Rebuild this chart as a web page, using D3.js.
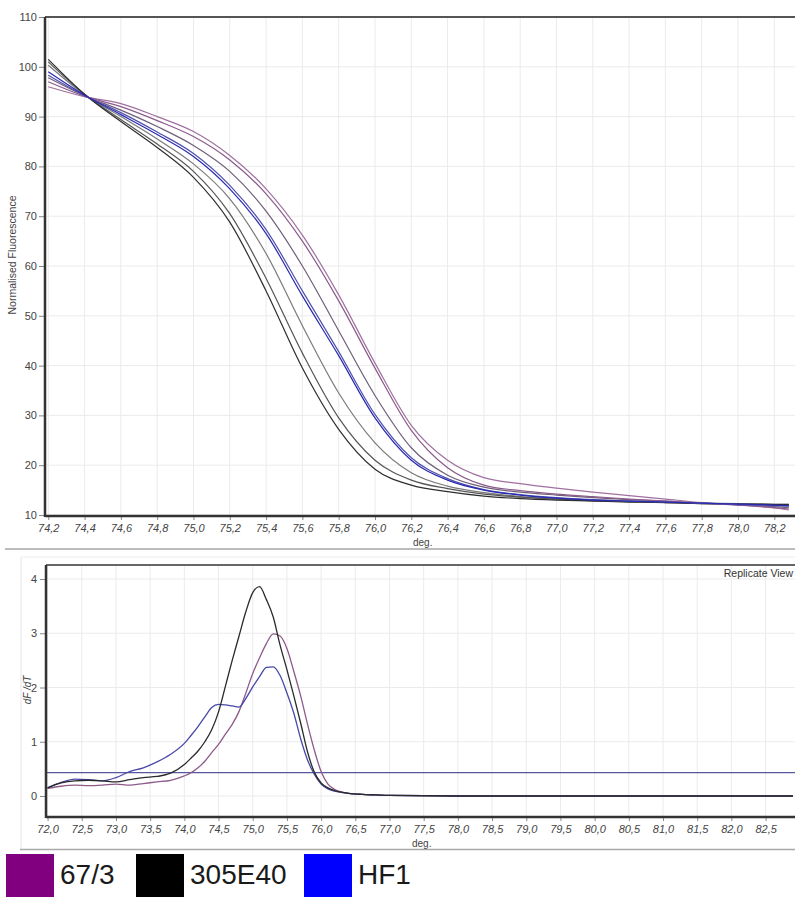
<!DOCTYPE html>
<html>
<head>
<meta charset="utf-8">
<script src="https://cdn.jsdelivr.net/npm/d3@7"></script>
<style>
  body { margin: 0; background: #fff; }
  text { font-family: "Liberation Sans", Arial, sans-serif; }
</style>
</head>
<body>
<div id="chart"></div>
<script>
// ---- melt curve data (Normalised Fluorescence) ----
var meltTemps = [74.2, 74.4, 74.6, 74.8, 75.0, 75.2, 75.4, 75.6, 75.8, 76.0, 76.2, 76.4, 76.6, 76.8, 77.0, 77.2, 77.4, 77.6, 77.8, 78.0, 78.2, 78.28];

var black305Rep1 = [101.5, 94.5, 89.0, 83.8, 77.8, 68.8, 55.0, 39.5, 27.2, 19.2, 16.0, 14.7, 13.8, 13.3, 13.0, 12.8, 12.6, 12.5, 12.3, 12.2, 12.1, 12.1];
var black305Rep2 = [101.0, 94.5, 89.4, 84.5, 79.0, 70.5, 57.5, 42.5, 29.5, 21.0, 17.0, 15.3, 14.2, 13.6, 13.2, 12.9, 12.7, 12.5, 12.3, 12.2, 12.1, 12.0];
var black305Rep3 = [100.3, 94.4, 90.0, 85.5, 80.5, 73.5, 62.5, 48.0, 34.5, 24.5, 18.5, 15.8, 14.5, 13.7, 13.3, 13.0, 12.8, 12.6, 12.4, 12.3, 12.2, 12.2];
var blueHF1Rep1 = [99.0, 94.3, 90.4, 86.4, 82.0, 75.5, 66.5, 54.0, 42.0, 29.5, 21.0, 17.0, 15.0, 14.0, 13.4, 13.0, 12.8, 12.6, 12.4, 12.2, 12.0, 11.9];
var blueHF1Rep2 = [98.3, 94.2, 90.8, 86.9, 82.6, 76.2, 67.3, 55.0, 42.8, 30.2, 21.5, 17.3, 15.1, 14.1, 13.5, 13.1, 12.8, 12.6, 12.4, 12.1, 11.9, 11.8];
var purple67Rep1 = [97.8, 94.2, 91.3, 88.0, 84.2, 79.0, 71.0, 60.0, 47.0, 34.0, 23.5, 18.0, 15.6, 14.6, 14.0, 13.5, 13.1, 12.8, 12.4, 12.1, 11.7, 11.5];
var purple67Rep2 = [97.0, 94.1, 92.0, 89.2, 86.0, 81.3, 74.5, 65.0, 53.0, 39.5, 27.0, 19.5, 16.0, 14.9, 14.2, 13.7, 13.2, 12.8, 12.4, 12.0, 11.5, 11.2];
var purple67Rep3 = [96.0, 94.0, 92.6, 90.0, 87.0, 82.2, 75.5, 66.2, 54.2, 40.5, 28.0, 21.0, 17.5, 16.3, 15.4, 14.6, 13.9, 13.2, 12.5, 12.0, 11.4, 11.0];

// ---- derivative data (dF/dT) ----
var derivTemps = [72.0, 72.2, 72.4, 72.6, 72.8, 73.0, 73.2, 73.4, 73.6, 73.8, 74.0, 74.1, 74.2, 74.3, 74.4, 74.5, 74.6, 74.7, 74.8, 74.9, 75.0, 75.1, 75.2, 75.3, 75.4, 75.5, 75.6, 75.7, 75.8, 75.9, 76.0, 76.1, 76.2, 76.4, 76.6, 76.8, 77.0, 78.0, 79.0, 80.0, 81.0, 82.0, 82.9];

var deriv67 = [0.14, 0.18, 0.20, 0.19, 0.20, 0.22, 0.20, 0.23, 0.26, 0.29, 0.37, 0.43, 0.52, 0.64, 0.80, 0.95, 1.14, 1.32, 1.56, 1.90, 2.26, 2.55, 2.81, 2.99, 2.95, 2.72, 2.30, 1.85, 1.33, 0.85, 0.45, 0.22, 0.12, 0.05, 0.03, 0.02, 0.01, 0.0, 0.0, 0.0, 0.0, 0.0, 0.0];
var deriv305 = [0.15, 0.24, 0.28, 0.29, 0.28, 0.26, 0.30, 0.34, 0.36, 0.42, 0.58, 0.70, 0.83, 1.00, 1.22, 1.55, 2.02, 2.50, 2.95, 3.40, 3.75, 3.86, 3.62, 3.30, 2.78, 2.33, 1.85, 1.35, 0.82, 0.44, 0.24, 0.15, 0.10, 0.05, 0.03, 0.02, 0.01, 0.0, 0.0, 0.0, 0.0, 0.0, 0.0];
var derivHF1 = [0.15, 0.25, 0.31, 0.30, 0.28, 0.34, 0.45, 0.52, 0.63, 0.77, 0.97, 1.12, 1.28, 1.46, 1.63, 1.69, 1.68, 1.66, 1.64, 1.80, 2.01, 2.20, 2.37, 2.38, 2.22, 1.90, 1.53, 1.06, 0.67, 0.40, 0.22, 0.13, 0.09, 0.05, 0.03, 0.02, 0.01, 0.0, 0.0, 0.0, 0.0, 0.0, 0.0];

var thresholdValue = 0.43;

// ---- ticks and legend ----
var meltXTicks = [74.2, 74.4, 74.6, 74.8, 75.0, 75.2, 75.4, 75.6, 75.8, 76.0, 76.2, 76.4, 76.6, 76.8, 77.0, 77.2, 77.4, 77.6, 77.8, 78.0, 78.2];
var meltYTicks = [10, 20, 30, 40, 50, 60, 70, 80, 90, 100, 110];
var derivXTicks = [72.0, 72.5, 73.0, 73.5, 74.0, 74.5, 75.0, 75.5, 76.0, 76.5, 77.0, 77.5, 78.0, 78.5, 79.0, 79.5, 80.0, 80.5, 81.0, 81.5, 82.0, 82.5];
var derivYTicks = [0, 1, 2, 3, 4];
var legendNames = ["67/3", "305E40", "HF1"];
var legendColors = ["#800080", "#000000", "#0000ff"];

var svgWidth = 795;
var svgHeight = 897;

var svg = d3.select("#chart").append("svg")
    .attr("width", svgWidth)
    .attr("height", svgHeight);

var commaFormat = function(d) { return d3.format(".1f")(d).replace(".", ","); };

// ================= top panel =================
var melt = { left: 45, right: 795, top: 17, bottom: 515 };

var meltX = d3.scaleLinear().domain([74.182, 78.314]).range([melt.left, melt.right]);
var meltY = d3.scaleLinear().domain([10, 110]).range([melt.bottom, melt.top]);

var topGroup = svg.append("g");

// grid
topGroup.append("g").selectAll("line")
    .data(meltXTicks)
    .enter()
    .append("line")
    .attr("x1", d => meltX(d)).attr("x2", d => meltX(d))
    .attr("y1", melt.top).attr("y2", melt.bottom)
    .attr("stroke", "#ebebeb");

topGroup.append("g").selectAll("line")
    .data(meltYTicks)
    .enter()
    .append("line")
    .attr("x1", melt.left).attr("x2", melt.right)
    .attr("y1", d => meltY(d)).attr("y2", d => meltY(d))
    .attr("stroke", "#ebebeb");

svg.append("clipPath").attr("id", "clipTop")
    .append("rect")
    .attr("x", melt.left).attr("y", melt.top)
    .attr("width", melt.right - melt.left).attr("height", melt.bottom - melt.top);

var meltSeries = [
    { values: black305Rep3, color: "#7a7a7a" },
    { values: black305Rep2, color: "#555555" },
    { values: black305Rep1, color: "#2e2e2e" },
    { values: purple67Rep1, color: "#6f5f78" },
    { values: purple67Rep3, color: "#a070a0" },
    { values: purple67Rep2, color: "#8a5a8a" },
    { values: blueHF1Rep2, color: "#5050b0" },
    { values: blueHF1Rep1, color: "#2a2ab0" }
];

var meltLine = d3.line()
    .x((d, i) => meltX(meltTemps[i]))
    .y(d => meltY(d))
    .curve(d3.curveMonotoneX);

topGroup.append("g")
    .attr("clip-path", "url(#clipTop)")
    .selectAll("path")
    .data(meltSeries)
    .enter()
    .append("path")
    .attr("d", d => meltLine(d.values))
    .attr("fill", "none")
    .attr("stroke", d => d.color)
    .attr("stroke-width", 1.2);

// axes
var meltXAxis = topGroup.append("g")
    .attr("transform", `translate(0, ${melt.bottom + 1})`)
    .call(d3.axisBottom(meltX).tickValues(meltXTicks).tickFormat(commaFormat).tickSize(4).tickPadding(4).tickSizeOuter(0));

var meltYAxis = topGroup.append("g")
    .attr("transform", `translate(${melt.left}, 0)`)
    .call(d3.axisLeft(meltY).tickValues(meltYTicks).tickSize(6).tickPadding(2).tickSizeOuter(0));

[meltXAxis, meltYAxis].forEach(function(ax) {
    ax.select(".domain").remove();
    ax.selectAll(".tick line").attr("stroke", "#888");
    ax.selectAll(".tick text").attr("fill", "#444").attr("font-size", "11px")
        .attr("font-family", "'Liberation Sans', Arial, sans-serif");
});
meltXAxis.selectAll(".tick text").attr("font-style", "italic");

topGroup.append("line")
    .attr("x1", melt.left).attr("x2", melt.right)
    .attr("y1", melt.top).attr("y2", melt.top)
    .attr("stroke", "#555").attr("stroke-width", 2);
topGroup.append("line")
    .attr("x1", melt.left).attr("x2", melt.right)
    .attr("y1", melt.bottom + 1).attr("y2", melt.bottom + 1)
    .attr("stroke", "#333").attr("stroke-width", 2.5);
topGroup.append("line")
    .attr("x1", melt.left).attr("x2", melt.left)
    .attr("y1", melt.top).attr("y2", melt.bottom + 2)
    .attr("stroke", "#333").attr("stroke-width", 2.5);

topGroup.append("text")
    .attr("transform", "translate(16, 255) rotate(-90)")
    .attr("text-anchor", "middle")
    .attr("font-size", "10.5px")
    .attr("fill", "#444")
    .text("Normalised Fluorescence");

topGroup.append("text")
    .attr("x", 413).attr("y", 546)
    .attr("font-size", "10px")
    .attr("fill", "#444")
    .text("deg.");

// panel separator
svg.append("line")
    .attr("x1", 5).attr("x2", 795)
    .attr("y1", 549).attr("y2", 549)
    .attr("stroke", "#bdbdbd").attr("stroke-width", 2);

// ================= bottom panel =================
var deriv = { left: 46, right: 795, top: 565, bottom: 817 };

var derivX = d3.scaleLinear().domain([71.977, 82.93]).range([deriv.left, deriv.right]);
var derivY = d3.scaleLinear().domain([-0.387, 4.258]).range([deriv.bottom, deriv.top]);

var bottomGroup = svg.append("g");

// faint panel frame
bottomGroup.append("line")
    .attr("x1", 21).attr("x2", 795).attr("y1", 557).attr("y2", 557)
    .attr("stroke", "#ececec");
bottomGroup.append("line")
    .attr("x1", 21).attr("x2", 21).attr("y1", 557).attr("y2", 849)
    .attr("stroke", "#e4e4e4");
bottomGroup.append("line")
    .attr("x1", 20).attr("x2", 795).attr("y1", 849.5).attr("y2", 849.5)
    .attr("stroke", "#a8a8a8").attr("stroke-width", 1.5);

bottomGroup.append("g").selectAll("line")
    .data(derivXTicks)
    .enter()
    .append("line")
    .attr("x1", d => derivX(d)).attr("x2", d => derivX(d))
    .attr("y1", deriv.top).attr("y2", deriv.bottom)
    .attr("stroke", "#ebebeb");

bottomGroup.append("g").selectAll("line")
    .data(derivYTicks)
    .enter()
    .append("line")
    .attr("x1", deriv.left).attr("x2", deriv.right)
    .attr("y1", d => derivY(d)).attr("y2", d => derivY(d))
    .attr("stroke", "#ebebeb");

svg.append("clipPath").attr("id", "clipBottom")
    .append("rect")
    .attr("x", deriv.left).attr("y", deriv.top)
    .attr("width", deriv.right - deriv.left).attr("height", deriv.bottom - deriv.top);

// threshold
bottomGroup.append("line")
    .attr("x1", deriv.left).attr("x2", deriv.right)
    .attr("y1", derivY(thresholdValue)).attr("y2", derivY(thresholdValue))
    .attr("stroke", "#5858a0").attr("stroke-width", 1.3);

var derivSeries = [
    { values: deriv67, color: "#8e5a8a" },
    { values: derivHF1, color: "#4848a8" },
    { values: deriv305, color: "#2a2a2a" }
];

var derivLine = d3.line()
    .x((d, i) => derivX(derivTemps[i]))
    .y(d => derivY(d))
    .curve(d3.curveMonotoneX);

bottomGroup.append("g")
    .attr("clip-path", "url(#clipBottom)")
    .selectAll("path")
    .data(derivSeries)
    .enter()
    .append("path")
    .attr("d", d => derivLine(d.values))
    .attr("fill", "none")
    .attr("stroke", d => d.color)
    .attr("stroke-width", 1.3);

var derivXAxis = bottomGroup.append("g")
    .attr("transform", `translate(0, ${deriv.bottom})`)
    .call(d3.axisBottom(derivX).tickValues(derivXTicks).tickFormat(commaFormat).tickSize(4).tickPadding(4).tickSizeOuter(0));

var derivYAxis = bottomGroup.append("g")
    .attr("transform", `translate(${deriv.left}, 0)`)
    .call(d3.axisLeft(derivY).tickValues(derivYTicks).tickFormat(d3.format("d")).tickSize(6).tickPadding(3).tickSizeOuter(0));

[derivXAxis, derivYAxis].forEach(function(ax) {
    ax.select(".domain").remove();
    ax.selectAll(".tick line").attr("stroke", "#888");
    ax.selectAll(".tick text").attr("fill", "#444").attr("font-size", "11px")
        .attr("font-family", "'Liberation Sans', Arial, sans-serif");
});
derivXAxis.selectAll(".tick text").attr("font-style", "italic");

bottomGroup.append("line")
    .attr("x1", deriv.left).attr("x2", deriv.right)
    .attr("y1", deriv.top).attr("y2", deriv.top)
    .attr("stroke", "#666").attr("stroke-width", 2);
bottomGroup.append("line")
    .attr("x1", deriv.left).attr("x2", deriv.right)
    .attr("y1", deriv.bottom).attr("y2", deriv.bottom)
    .attr("stroke", "#333").attr("stroke-width", 2.5);
bottomGroup.append("line")
    .attr("x1", deriv.left).attr("x2", deriv.left)
    .attr("y1", deriv.top).attr("y2", deriv.bottom + 1)
    .attr("stroke", "#333").attr("stroke-width", 2.5);

bottomGroup.append("text")
    .attr("transform", "translate(31, 690) rotate(-90)")
    .attr("text-anchor", "middle")
    .attr("font-size", "10px")
    .attr("font-style", "italic")
    .attr("fill", "#444")
    .text("dF /dT");

bottomGroup.append("text")
    .attr("x", 412).attr("y", 847)
    .attr("font-size", "10px")
    .attr("fill", "#444")
    .text("deg.");

bottomGroup.append("text")
    .attr("x", 793).attr("y", 577)
    .attr("text-anchor", "end")
    .attr("font-size", "10.5px")
    .attr("fill", "#333")
    .text("Replicate View");

// ================= legend =================
var legendX = [6, 136, 304];

var legend = svg.append("g");

legend.selectAll("rect")
    .data(legendNames)
    .enter()
    .append("rect")
    .attr("x", (d, i) => legendX[i])
    .attr("y", 854)
    .attr("width", 48)
    .attr("height", 43)
    .attr("fill", (d, i) => legendColors[i]);

legend.selectAll("text")
    .data(legendNames)
    .enter()
    .append("text")
    .attr("x", (d, i) => legendX[i] + 54)
    .attr("y", 884)
    .attr("font-size", "28px")
    .attr("fill", "#1a1a1a")
    .text(d => d);
</script>
</body>
</html>
